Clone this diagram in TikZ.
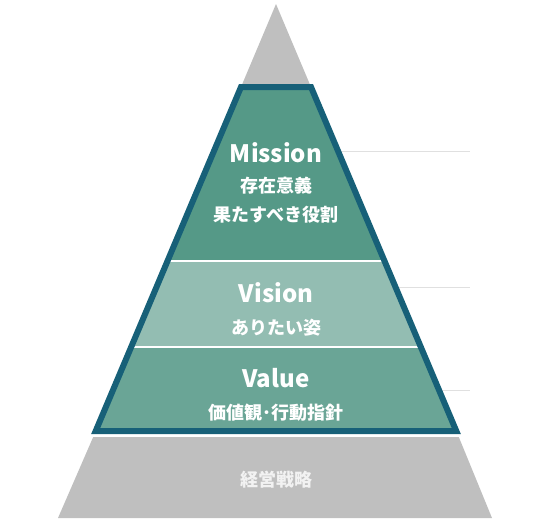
\documentclass[tikz,border=0pt]{standalone}
\usepackage{fontspec}
\setmainfont{Noto Sans CJK JP}
\usepackage{xcolor}

\definecolor{peakgray}{RGB}{191,191,191}
\definecolor{rulegray}{RGB}{224,224,224}
\definecolor{missionfill}{RGB}{85,153,135}
\definecolor{visionfill}{RGB}{147,189,178}
\definecolor{valuefill}{RGB}{106,165,150}
\definecolor{frameblue}{RGB}{23,96,120}

\tikzset{
  title/.style={text=white, font=\bfseries\fontsize{24}{24}\selectfont, anchor=base, inner sep=0pt},
  caption/.style={text=white, font=\bfseries\fontsize{18}{18}\selectfont, anchor=base, inner sep=0pt}
}

\begin{document}
\begin{tikzpicture}[x=1pt,y=-1pt]
                \useasboundingbox (0,0) rectangle (550,522);

                % side rules behind the pyramid
                \draw[rulegray, line width=0.8pt] (300,151) -- (470,151);
                \draw[rulegray, line width=0.8pt] (300,287) -- (470,287);
                \draw[rulegray, line width=0.8pt] (300,390) -- (470,390);

                % gray peak and base
                \fill[peakgray] (276,4) -- (311,87) -- (241,87) -- cycle;
                \fill[peakgray] (93.2,437) -- (458.8,437) -- (492,518) -- (58,518) -- cycle;

                % layers
                \fill[missionfill] (241,87) -- (311,87) -- (384.5,261) -- (167.5,261) -- cycle;
                \fill[visionfill] (167.5,261) -- (384.5,261) -- (420.8,347) -- (131.2,347) -- cycle;
                \fill[valuefill] (131.2,347) -- (420.8,347) -- (456.3,431) -- (95.7,431) -- cycle;

                \draw[white, line width=1.5pt] (167.5,261) -- (384.5,261);
                \draw[white, line width=1.5pt] (131.2,347) -- (420.8,347);

                \draw[frameblue, line width=6pt, line join=miter] (241,87) -- (311,87) -- (456.3,431) -- (95.7,431) -- cycle;

                \node[title] (mission) at (276,162) {Mission};
                \node[caption] (missionA) at (276,192) {存在意義};
                \node[caption] (missionB) at (276,221) {果たすべき役割};

                \node[title] (vision) at (276,302) {Vision};
                \node[caption] (visionA) at (276,334) {ありたい姿};

                \node[title] (value) at (276,387) {Value};
                \node[caption] (valueA) at (276,419) {価値観･行動指針};

                \node[caption, text=white!95!black] (strategy) at (276,486) {経営戦略};
\end{tikzpicture}
\end{document}
